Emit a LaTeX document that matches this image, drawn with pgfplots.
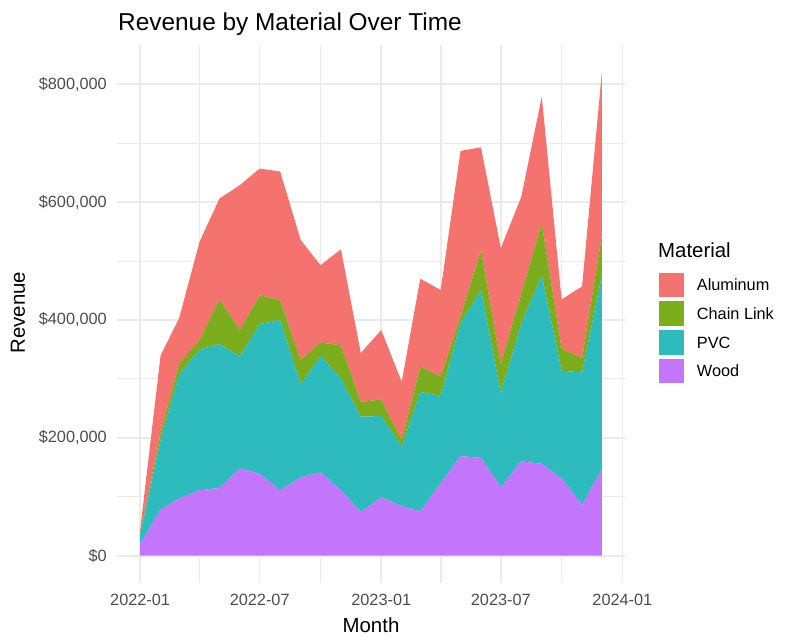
\documentclass[border=0pt]{standalone}
\usepackage{fontspec}
\setmainfont{Liberation Sans}
\usepackage{pgfplots}
\usepackage{pgfplotstable}
\pgfplotsset{compat=1.18}
\definecolor{cAl}{HTML}{F5736E}
\definecolor{cCL}{HTML}{7BAD1C}
\definecolor{cPVC}{HTML}{2EBBBE}
\definecolor{cWood}{HTML}{C375FC}
\definecolor{gridc}{HTML}{EBEBEB}
\definecolor{tickc}{HTML}{4D4D4D}
\pgfplotstableread{
d    wood pvc chain alu
0    20000 16000 1000 6000
31   78000 118000 12000 132000
59   97000 210000 19000 77000
90   111000 239000 16000 167000
120  115000 244000 76000 171000
151  148000 190000 45000 246000
181  139000 254000 49000 215000
212  111000 289000 34000 218000
243  133000 158000 41000 204000
273  141000 198000 23000 131000
304  111000 190000 56000 163000
334  74000 162000 25000 83000
365  99000 138000 28000 118000
396  84000 101000 11000 99000
424  75000 203000 43000 149000
455  123000 148000 33000 147000
485  169000 225000 12000 281000
516  166000 285000 68000 174000
546  116000 160000 49000 197000
577  160000 234000 51000 164000
608  156000 320000 88000 215000
638  131000 183000 38000 83000
669  86000 225000 24000 122000
699  147000 329000 68000 277000
}\datatable
\begin{document}
\begin{tikzpicture}
\path (0,0) rectangle (800pt,642pt);
\begin{axis}[
  at={(117pt,59pt)}, anchor=south west,
  scale only axis, width=508pt, height=538pt,
  xmin=-35, xmax=734, ymin=-46300, ymax=866700,
  stack plots=y,
  scaled y ticks=false, scaled x ticks=false,
  axis line style={draw=none},
  tick style={draw=none},
  major tick length=0pt, minor tick length=0pt,
  xtick={0,181,365,546,730},
  xticklabels={2022-01,2022-07,2023-01,2023-07,2024-01},
  minor xtick={90.5,273,455.5,638},
  ytick={0,200000,400000,600000,800000},
  yticklabels={\$0,{\$200,000},{\$400,000},{\$600,000},{\$800,000}},
  minor ytick={100000,300000,500000,700000},
  grid=both,
  major grid style={gridc, line width=1.6pt},
  minor grid style={gridc, line width=1.1pt},
  xticklabel style={anchor=north, inner sep=0pt, yshift=-11pt, text=tickc, font=\fontsize{16.3}{19}\selectfont},
  yticklabel style={anchor=east, inner sep=0pt, xshift=-10pt, text=tickc, font=\fontsize{16.3}{19}\selectfont},
  clip=false,
]
\addplot[draw=none, fill=cWood, mark=none] table[x=d, y=wood] {\datatable} \closedcycle;
\addplot[draw=none, fill=cPVC, mark=none] table[x=d, y=pvc] {\datatable} \closedcycle;
\addplot[draw=none, fill=cCL, mark=none] table[x=d, y=chain] {\datatable} \closedcycle;
\addplot[draw=none, fill=cAl, mark=none] table[x=d, y=alu] {\datatable} \closedcycle;
\end{axis}
\node[anchor=base west, inner sep=0pt, font=\fontsize{24.4}{28}\selectfont] at (118pt,611.3pt) {Revenue by Material Over Time};
\node[anchor=base, inner sep=0pt, font=\fontsize{20.4}{24}\selectfont] at (371pt,9pt) {Month};
\node[anchor=base, rotate=90, inner sep=0pt, font=\fontsize{20.4}{24}\selectfont] at (25pt,329.5pt) {Revenue};
% legend
\node[anchor=base west, inner sep=0pt, font=\fontsize{20.4}{24}\selectfont] at (658pt,384pt) {Material};
\fill[cAl] (659pt,369.3pt) rectangle (684pt,344.7pt);
\fill[cCL] (659pt,340.6pt) rectangle (684pt,316pt);
\fill[cPVC] (659pt,311.9pt) rectangle (684pt,287.3pt);
\fill[cWood] (659pt,283.2pt) rectangle (684pt,258.6pt);
\node[anchor=base west, inner sep=0pt, font=\fontsize{16.3}{19}\selectfont] at (696.7pt,351.2pt) {Aluminum};
\node[anchor=base west, inner sep=0pt, font=\fontsize{16.3}{19}\selectfont] at (696.7pt,322.5pt) {Chain Link};
\node[anchor=base west, inner sep=0pt, font=\fontsize{16.3}{19}\selectfont] at (696.7pt,293.8pt) {PVC};
\node[anchor=base west, inner sep=0pt, font=\fontsize{16.3}{19}\selectfont] at (696.7pt,265.1pt) {Wood};
\end{tikzpicture}
\end{document}
